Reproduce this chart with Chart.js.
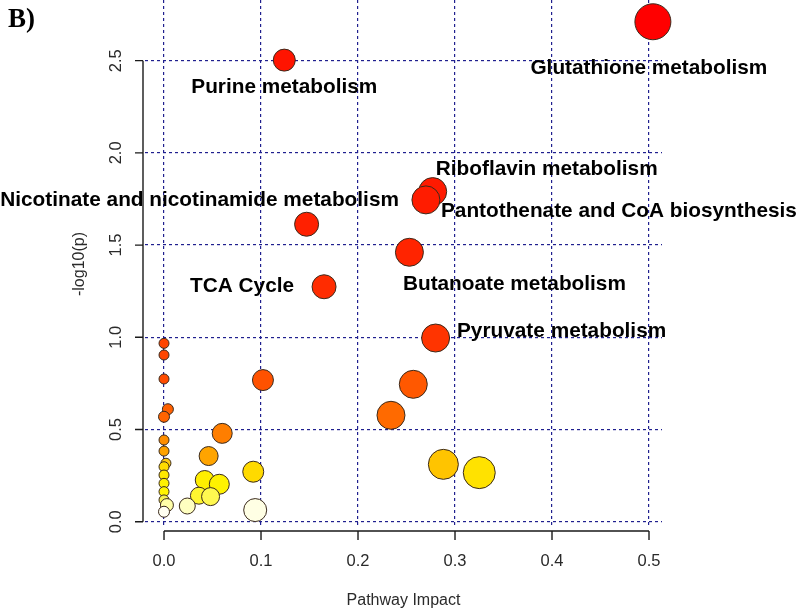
<!DOCTYPE html>
<html>
<head>
<meta charset="utf-8">
<script src="https://cdn.jsdelivr.net/npm/chart.js@4"></script>
<style>
  body { margin: 0; background: #fff; }
  #wrap { width: 800px; height: 616px; position: relative; }
</style>
</head>
<body>
<div id="wrap"><canvas id="pathwayChart" width="800" height="616"></canvas></div>
<script>
// pathway impact (x), -log10(p) (y), bubble size
const pathwayNames = [
    "Glutathione metabolism", "Purine metabolism", "Riboflavin metabolism",
    "Pantothenate and CoA biosynthesis", "Nicotinate and nicotinamide metabolism",
    "Butanoate metabolism", "TCA Cycle", "Pyruvate metabolism"
];
const impact = [0.504, 0.124, 0.277, 0.270, 0.147, 0.253, 0.165, 0.280,
    0.0, 0.0, 0.0, 0.102, 0.257, 0.004, 0.0, 0.234, 0.060, 0.0, 0.0, 0.046,
    0.002, 0.288, 0.0, 0.092, 0.325, 0.0, 0.042, 0.0, 0.057, 0.0, 0.036, 0.048,
    0.0, 0.003, 0.024, 0.094, 0.0];
const logP = [2.711, 2.503, 1.790, 1.745, 1.613, 1.461, 1.274, 0.996,
    0.967, 0.904, 0.774, 0.768, 0.745, 0.610, 0.569, 0.577, 0.479, 0.443, 0.383, 0.356,
    0.317, 0.311, 0.298, 0.271, 0.266, 0.253, 0.226, 0.208, 0.203, 0.163, 0.141, 0.136,
    0.118, 0.090, 0.085, 0.063, 0.054];
const bubbleSize = [18, 11, 14, 14, 12, 14, 12, 14,
    5, 5, 5, 10.5, 14, 5.5, 5.5, 14, 10, 5, 5, 9.5,
    5, 15, 5, 10.5, 16, 5, 9.5, 5, 10, 5, 8.5, 9,
    5, 6.5, 8, 11.5, 5.5];
const xTicks = [0.0, 0.1, 0.2, 0.3, 0.4, 0.5];
const yTicks = [0.0, 0.5, 1.0, 1.5, 2.0, 2.5];

// colours (red = most significant, pale = least)
const fillColors = ["#ff0000", "#ff1400", "#ff1a00", "#ff1c00", "#ff2000", "#ff2400", "#ff2c00", "#ff3400",
    "#ff4400", "#ff4600", "#ff4c00", "#ff5200", "#ff5800", "#ff6000", "#ff6400", "#ff6a00", "#ff7e00",
    "#ff8e00", "#ffa200", "#ffa400", "#ffca10", "#ffc400", "#ffdc00", "#ffda00", "#ffe200", "#ffe800",
    "#ffee00", "#fff000", "#fff200", "#fff400", "#fff630", "#fff850", "#f4f050", "#ffffa8", "#ffffc0",
    "#ffffe4", "#fffff2"];

// label placement relative to its bubble (px)
const labelOffsets = [[-4, 52], [0, 33], [114, -17], [193, 17], [-107, -18], [105, 38], [-82, 5], [126, -1]];

const points = impact.map((x, i) => ({ x: x, y: logP[i], r: bubbleSize[i] }));

const pathwayLabels = {
    id: 'pathwayLabels',
    afterDatasetsDraw(chart) {
        const ctx = chart.ctx;
        const meta = chart.getDatasetMeta(0);
        ctx.save();
        ctx.font = 'bold 20.8px "Liberation Sans", Arial, sans-serif';
        ctx.fillStyle = '#000';
        ctx.textAlign = 'center';
        ctx.textBaseline = 'alphabetic';
        pathwayNames.forEach((name, i) => {
            const el = meta.data[i];
            ctx.fillText(name, el.x + labelOffsets[i][0], el.y + labelOffsets[i][1]);
        });
        ctx.restore();
    }
};

// R-style axes: lines only span the tick range, rotated y labels
const rAxes = {
    id: 'rAxes',
    afterDraw(chart) {
        const ctx = chart.ctx;
        const xs = chart.scales.x, ys = chart.scales.y;
        const area = chart.chartArea;
        const axX = area.left - 2;
        const axY = area.bottom + 3;
        ctx.save();
        ctx.strokeStyle = '#1a1a1a';
        ctx.lineWidth = 1.4;
        // y axis
        ctx.beginPath();
        ctx.moveTo(axX, ys.getPixelForValue(yTicks[0]));
        ctx.lineTo(axX, ys.getPixelForValue(yTicks[yTicks.length - 1]));
        yTicks.forEach(v => {
            const p = ys.getPixelForValue(v);
            ctx.moveTo(axX - 8, p);
            ctx.lineTo(axX, p);
        });
        // x axis
        ctx.moveTo(xs.getPixelForValue(xTicks[0]), axY);
        ctx.lineTo(xs.getPixelForValue(xTicks[xTicks.length - 1]), axY);
        xTicks.forEach(v => {
            const p = xs.getPixelForValue(v);
            ctx.moveTo(p, axY);
            ctx.lineTo(p, axY + 9);
        });
        ctx.stroke();

        ctx.fillStyle = '#2a2a2a';
        ctx.font = '16.5px "Liberation Sans", Arial, sans-serif';
        ctx.textAlign = 'center';
        ctx.textBaseline = 'middle';
        yTicks.forEach(v => {
            ctx.save();
            ctx.translate(axX - 27, ys.getPixelForValue(v));
            ctx.rotate(-Math.PI / 2);
            ctx.fillText(v.toFixed(1), 0, 0);
            ctx.restore();
        });

        // panel letter
        ctx.fillStyle = '#000';
        ctx.font = 'bold 27px "Liberation Serif", "Times New Roman", serif';
        ctx.textAlign = 'left';
        ctx.textBaseline = 'alphabetic';
        ctx.fillText('B)', 8, 27);
        ctx.restore();
    }
};

const ctx = document.getElementById("pathwayChart").getContext("2d");

let chart = new Chart(ctx, {
    type: 'bubble',
    data: {
        datasets: [{
            data: points,
            backgroundColor: fillColors,
            borderColor: '#3a2a1c',
            borderWidth: 1,
            hoverRadius: 0,
            clip: false
        }]
    },
    options: {
        responsive: false,
        animation: false,
        events: [],
        layout: { autoPadding: false, padding: { top: 0, right: 138, bottom: 0, left: 0 } },
        plugins: {
            legend: { display: false },
            tooltip: { enabled: false }
        },
        scales: {
            x: {
                type: 'linear',
                min: -0.0196,
                max: 0.5134,
                afterFit: s => { s.height = 88; },
                grid: {
                    color: '#20208f',
                    lineWidth: 1.2,
                    drawTicks: false
                },
                border: { display: false, dash: [3, 3] },
                ticks: {
                    stepSize: 0.1,
                    includeBounds: false,
                    padding: 24,
                    color: '#2a2a2a',
                    font: { family: '"Liberation Sans", Arial, sans-serif', size: 16.5 },
                    callback: v => v.toFixed(1)
                },
                title: {
                    display: true,
                    text: 'Pathway Impact',
                    color: '#2a2a2a',
                    font: { family: '"Liberation Sans", Arial, sans-serif', size: 16 },
                    padding: { top: 0, bottom: 6 }
                }
            },
            y: {
                type: 'linear',
                min: -0.0342,
                max: 2.829,
                afterFit: s => { s.width = 145; },
                grid: {
                    color: '#20208f',
                    lineWidth: 1.2,
                    drawTicks: false
                },
                border: { display: false, dash: [3, 3] },
                ticks: {
                    stepSize: 0.5,
                    includeBounds: false,
                    display: false
                },
                title: {
                    display: true,
                    text: '-log10(p)',
                    color: '#2a2a2a',
                    font: { family: '"Liberation Sans", Arial, sans-serif', size: 16 },
                    padding: { top: 70, bottom: 0 }
                }
            }
        }
    },
    plugins: [pathwayLabels, rAxes]
});
</script>
</body>
</html>
